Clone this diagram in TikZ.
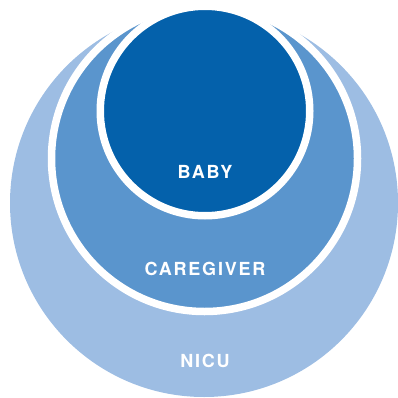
\documentclass[tikz,border=0pt]{standalone}
\usepackage{fontspec}
\newfontfamily\circlefont[LetterSpace=10]{TeX Gyre Heros}
\usepackage{tikz}
\definecolor{nicublue}{HTML}{9DBDE3}
\definecolor{careblue}{HTML}{5A95CD}
\definecolor{babyblue}{HTML}{0461AB}

\begin{document}
\begin{tikzpicture}[x=1pt,y=1pt,ring/.style={draw=white,line width=7.5pt},
	circlelabel/.style={text=white,inner sep=0pt,font=\circlefont\bfseries\fontsize{18}{18}\selectfont}]
			\useasboundingbox (0,0) rectangle (398,397);
			\fill[nicublue] (204,194) circle (194pt);
			\draw[ring,fill=careblue] (204.5,238.5) circle (153pt);
			\draw[ring,fill=babyblue] (205,286) circle (104.75pt);
			\node[circlelabel] (baby) at (205,225) {BABY};
			\node[circlelabel] (caregiver) at (205,128) {CAREGIVER};
			\node[circlelabel] (nicu) at (205,36) {NICU};
		\end{tikzpicture}
\end{document}
